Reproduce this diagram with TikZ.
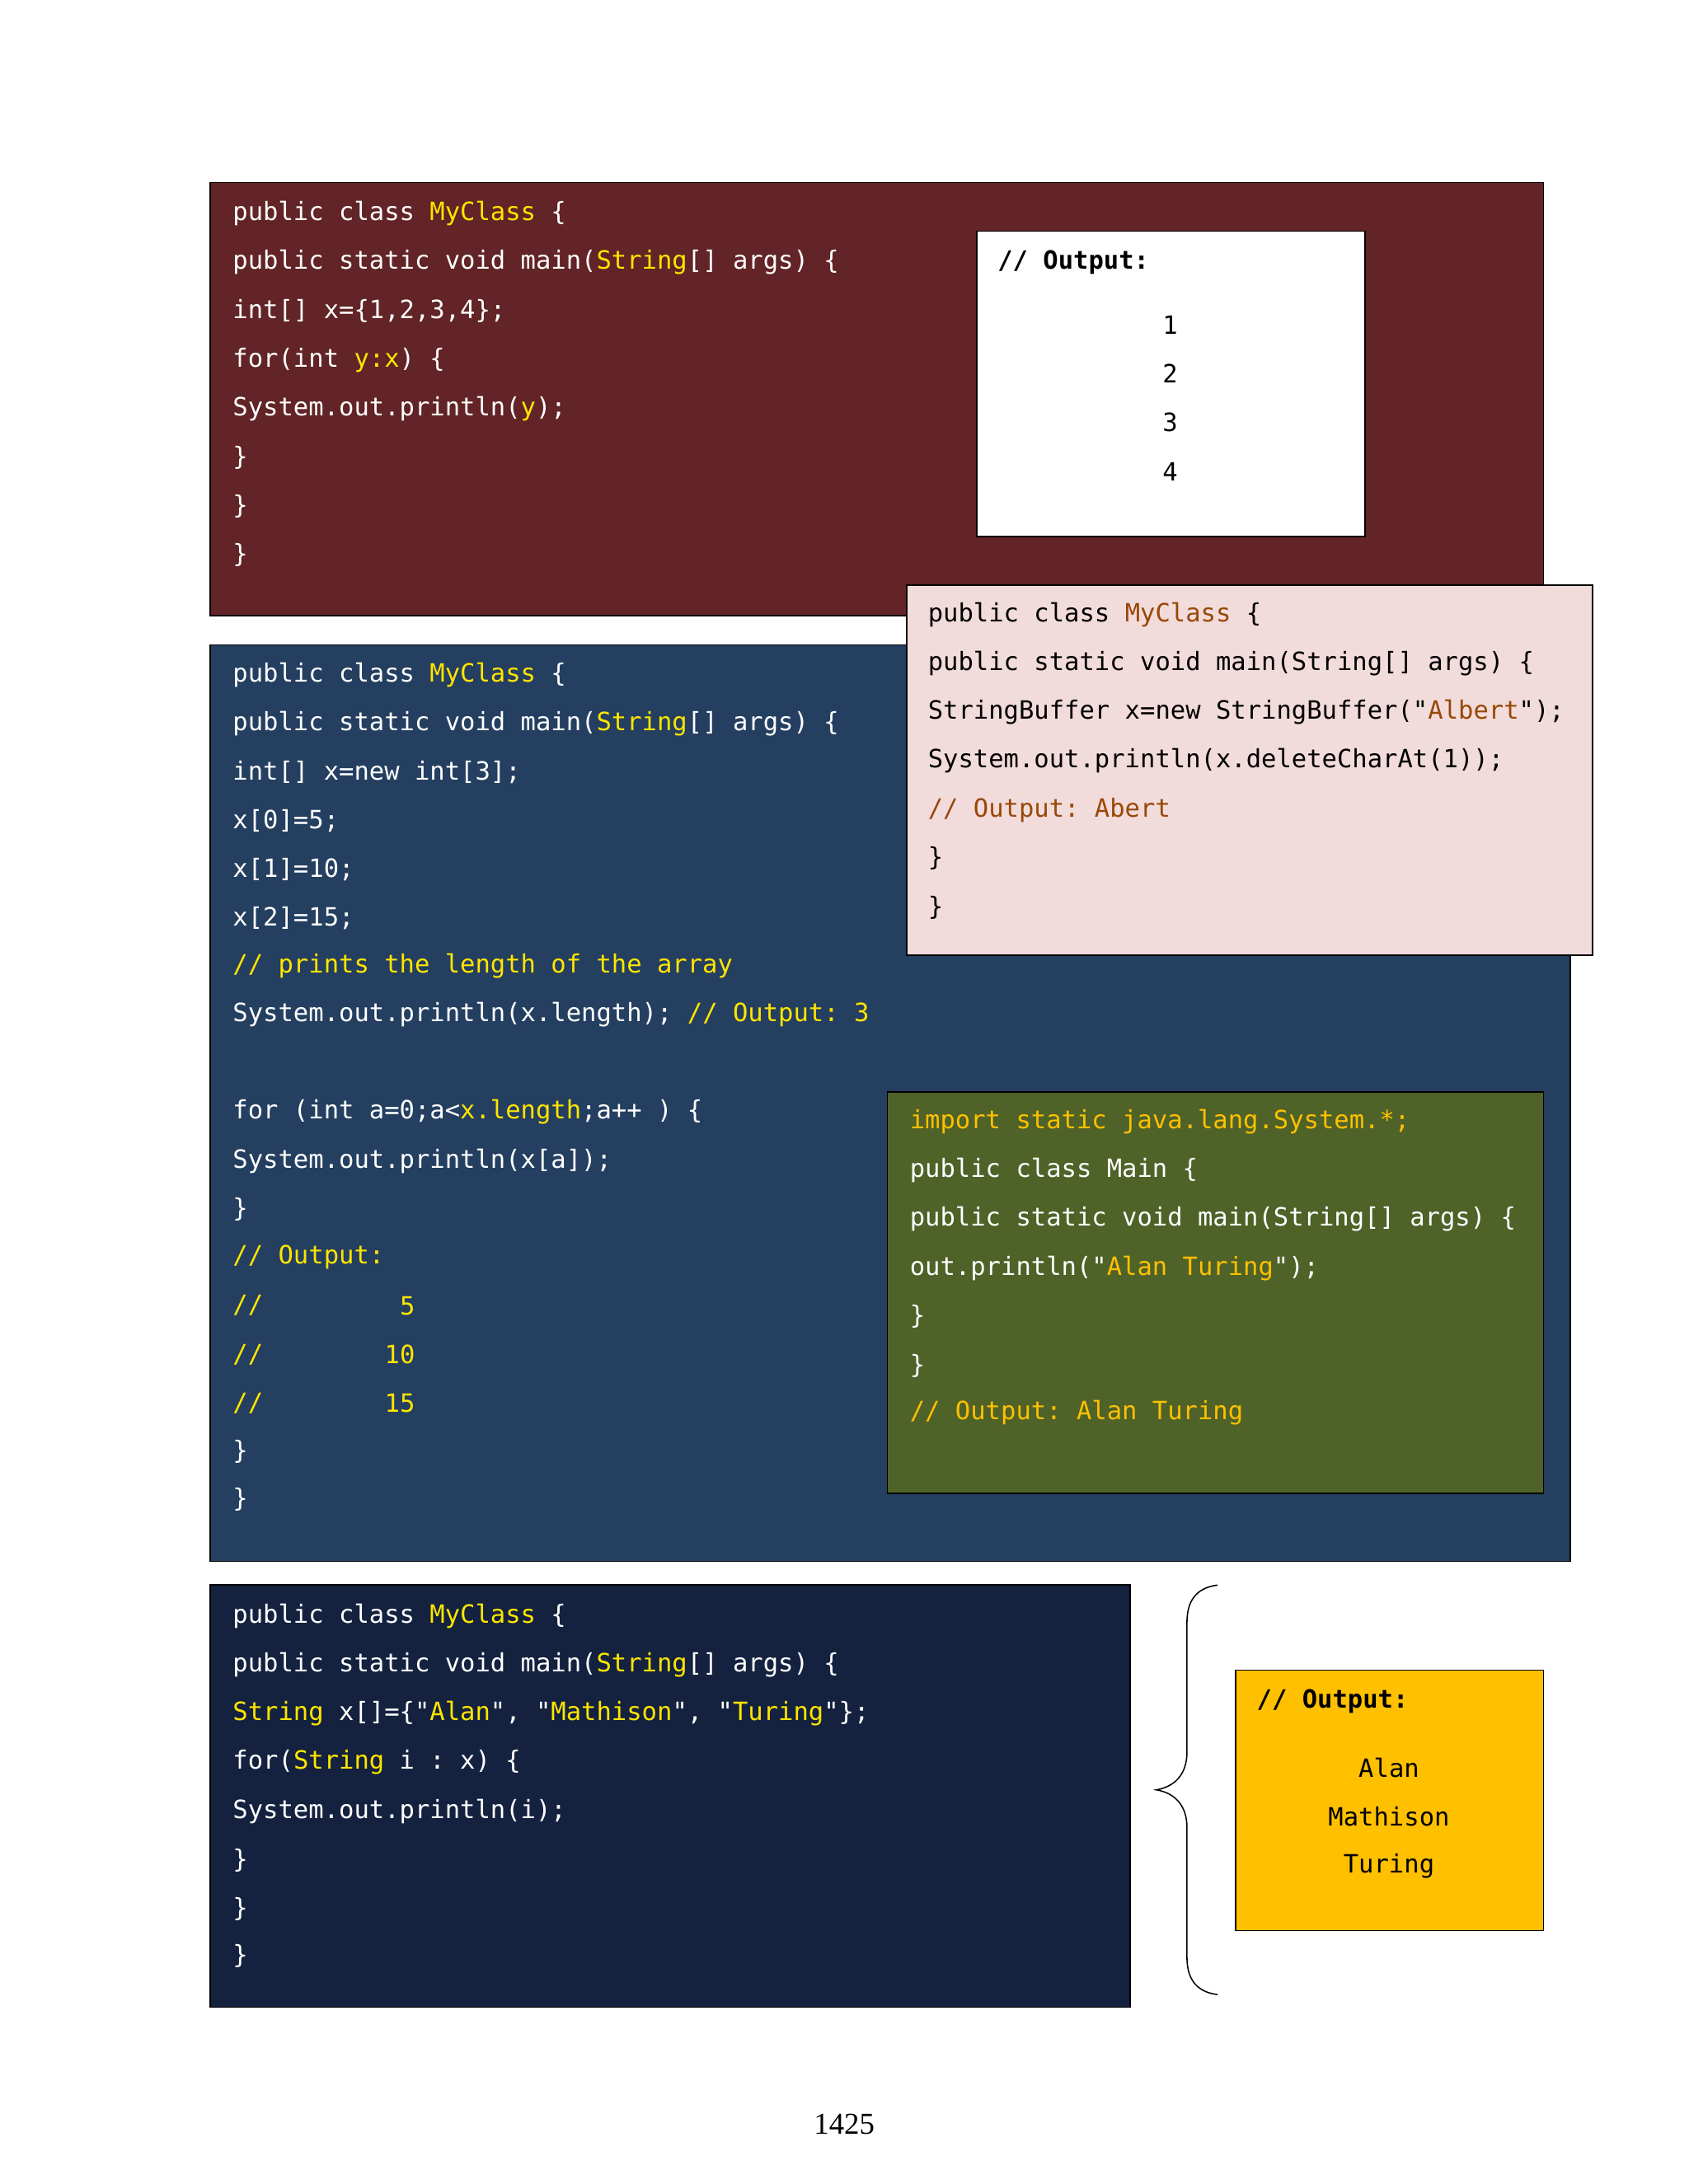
\documentclass[tikz,border=0pt]{standalone}
\usepackage{fontspec}
\setmonofont{DejaVu Sans Mono}
\setmainfont{Liberation Serif}
\definecolor{maroon}{HTML}{622426}
\definecolor{navyA}{HTML}{243F60}
\definecolor{pinkA}{HTML}{F2DBDB}
\definecolor{oliveA}{HTML}{4F6228}
\definecolor{navyB}{HTML}{14223F}
\definecolor{gold}{HTML}{FFC000}
\definecolor{yel}{HTML}{FFE500}
\definecolor{brn}{HTML}{984806}
\begin{document}
\begin{tikzpicture}[x=0.05cm,y=-0.05cm,
  box/.style={draw=black,line width=1.5},
  code/.style={anchor=west,inner sep=0,yshift=-2,font=\ttfamily\fontsize{25.7}{30}\selectfont,text=white},
  dcode/.style={code,text=black},
  cnum/.style={anchor=center,inner sep=0,yshift=-2,font=\ttfamily\fontsize{25.7}{30}\selectfont,text=black}]
\useasboundingbox (0,0) rectangle (1212,1568);
% boxes
\fill[maroon,box] (151,131) rectangle (1108,442);
\fill[white,box] (701,166) rectangle (980,385);
\fill[navyA,box] (151,463) rectangle (1127,1121);
\fill[pinkA,box] (651,420) rectangle (1143,686);
\fill[oliveA,box] (637,784) rectangle (1108,1072);
\fill[navyB,box] (151,1138) rectangle (811,1441);
\fill[gold,box] (887,1199) rectangle (1108,1386);
% maroon code
\node[code] (m1) at (167,152) {public class \textcolor{yel}{MyClass} \{};
\node[code] (m2) at (167,187) {public static void main(\textcolor{yel}{String}[] args) \{};
\node[code] (m3) at (167,222) {int[] x=\{1,2,3,4\};};
\node[code] (m4) at (167,257) {for(int \textcolor{yel}{y:x}) \{};
\node[code] (m5) at (167,292) {System.out.println(\textcolor{yel}{y});};
\node[code] (m6) at (167,327) {\}};
\node[code] (m7) at (167,362) {\}};
\node[code] (m8) at (167,397) {\}};
\node[dcode,font=\ttfamily\bfseries\fontsize{25.7}{30}\selectfont] (o0) at (716,187) {// Output:};
\node[cnum] (o1) at (840,232) {1};
\node[cnum] (o2) at (840,267) {2};
\node[cnum] (o3) at (840,302) {3};
\node[cnum] (o4) at (840,337) {4};
% navy code
\node[code] (n1) at (167,483) {public class \textcolor{yel}{MyClass} \{};
\node[code] (n2) at (167,518) {public static void main(\textcolor{yel}{String}[] args) \{};
\node[code] (n3) at (167,553) {int[] x=new int[3];};
\node[code] (n4) at (167,588) {x[0]=5;};
\node[code] (n5) at (167,623) {x[1]=10;};
\node[code] (n6) at (167,658) {x[2]=15;};
\node[code,text=yel] (n7) at (167,692) {// prints the length of the array};
\node[code] (n8) at (167,727) {System.out.println(x.length); \textcolor{yel}{// Output: 3}};
\node[code] (n9) at (167,797) {for (int a=0;a<\textcolor{yel}{x.length};a++ ) \{};
\node[code] (n10) at (167,832) {System.out.println(x[a]);};
\node[code] (n11) at (167,867) {\}};
\node[code,text=yel] (n12) at (167,901) {// Output:};
\node[code,text=yel] (n13) at (167,936) {//};
\node[code,text=yel] (n14) at (167,971) {//};
\node[code,text=yel] (n15) at (167,1006) {//};
\node[code,text=yel,anchor=east] (v1) at (298,936) {5};
\node[code,text=yel,anchor=east] (v2) at (298,971) {10};
\node[code,text=yel,anchor=east] (v3) at (298,1006) {15};
\node[code] (n16) at (167,1041) {\}};
\node[code] (n17) at (167,1075) {\}};
% pink code
\node[dcode] (p1) at (666,440) {public class \textcolor{brn}{MyClass} \{};
\node[dcode] (p2) at (666,475) {public static void main(String[] args) \{};
\node[dcode] (p3) at (666,510) {StringBuffer x=new StringBuffer("\textcolor{brn}{Albert}");};
\node[dcode] (p4) at (666,545) {System.out.println(x.deleteCharAt(1));};
\node[dcode,text=brn] (p5) at (666,580) {// Output: Abert};
\node[dcode] (p6) at (666,615) {\}};
\node[dcode] (p7) at (666,650) {\}};
% olive code
\node[code,text=gold] (g1) at (653,804) {import static java.lang.System.*;};
\node[code] (g2) at (653,839) {public class Main \{};
\node[code] (g3) at (653,874) {public static void main(String[] args) \{};
\node[code] (g4) at (653,909) {out.println("\textcolor{gold}{Alan Turing}");};
\node[code] (g5) at (653,944) {\}};
\node[code] (g6) at (653,979) {\}};
\node[code,text=gold] (g7) at (653,1013) {// Output: Alan Turing};
% dark navy code
\node[code] (d1) at (167,1159) {public class \textcolor{yel}{MyClass} \{};
\node[code] (d2) at (167,1194) {public static void main(\textcolor{yel}{String}[] args) \{};
\node[code] (d3) at (167,1229) {\textcolor{yel}{String} x[]=\{"\textcolor{yel}{Alan}", "\textcolor{yel}{Mathison}", "\textcolor{yel}{Turing}"\};};
\node[code] (d4) at (167,1264) {for(\textcolor{yel}{String} i : x) \{};
\node[code] (d5) at (167,1299) {System.out.println(i);};
\node[code] (d6) at (167,1334) {\}};
\node[code] (d7) at (167,1369) {\}};
\node[code] (d8) at (167,1403) {\}};
% brace
\draw[line width=1.3] (874,1138) .. controls (858,1140) and (852,1150) .. (852,1165) -- (852,1258) .. controls (852,1275) and (842,1283) .. (830,1285) .. controls (842,1287) and (852,1295) .. (852,1312) -- (852,1405) .. controls (852,1420) and (858,1430) .. (874,1432);
% yellow output
\node[dcode,font=\ttfamily\bfseries\fontsize{25.7}{30}\selectfont] (y0) at (902,1220) {// Output:};
\node[cnum] (y1) at (997,1268) {Alan};
\node[cnum] (y2) at (997,1303) {Mathison};
\node[cnum] (y3) at (997,1338) {Turing};
% page number
\node[inner sep=0,font=\fontsize{31}{36}\selectfont] (pg) at (606,1525) {1425};
\end{tikzpicture}
\end{document}
